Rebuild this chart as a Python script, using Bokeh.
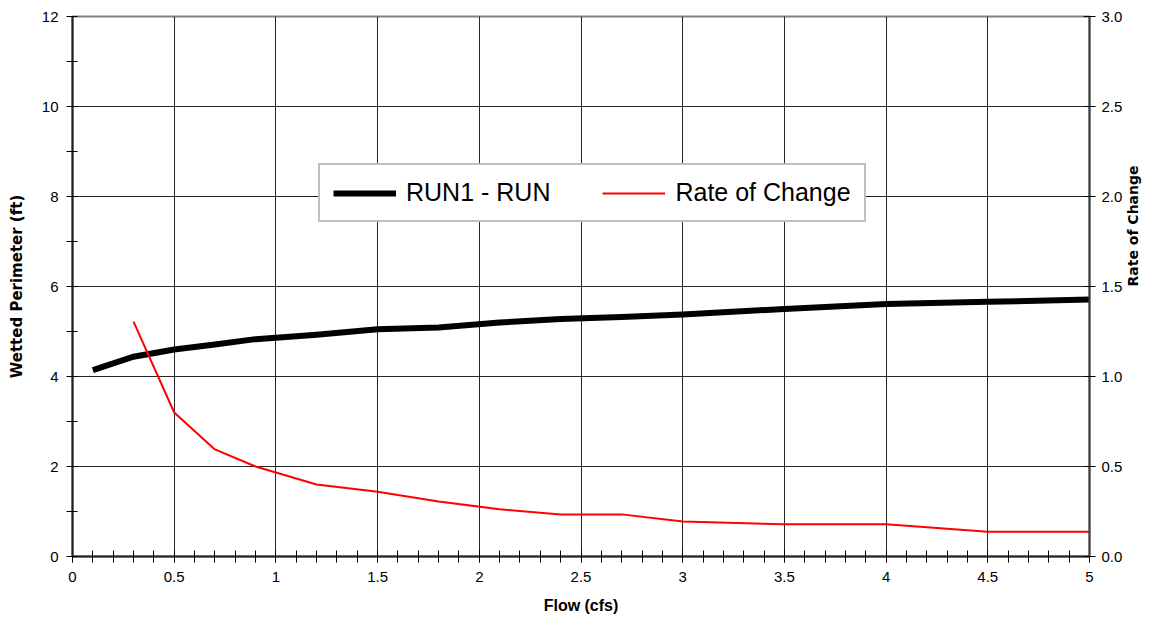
import math
from bokeh.plotting import figure
from bokeh.models import (Range1d, LinearAxis, FixedTicker, NumeralTickFormatter,
                          Legend, LegendItem)
from bokeh.embed import file_html
from bokeh.resources import INLINE

# ---- data ----
flow = [0.1, 0.3, 0.5, 0.7, 0.9, 1.2, 1.5, 1.8, 2.1, 2.4, 2.7, 3.0, 3.5, 4.0, 4.5, 5.0]
wetted_perimeter = [4.14, 4.44, 4.60, 4.71, 4.83, 4.93, 5.05, 5.09, 5.20, 5.28, 5.32, 5.38,
                    5.50, 5.61, 5.66, 5.71]
rate_flow = [0.3, 0.5, 0.7, 0.9, 1.2, 1.5, 1.8, 2.1, 2.4, 2.7, 3.0, 3.5, 4.0, 4.5, 5.0]
rate_of_change = [1.305, 0.80, 0.595, 0.50, 0.40, 0.36, 0.305, 0.262, 0.234, 0.234, 0.194,
                  0.179, 0.179, 0.138, 0.138]

x_major = [0, 0.5, 1, 1.5, 2, 2.5, 3, 3.5, 4, 4.5, 5]
x_minor = [round(i * 0.1, 1) for i in range(51)]
y_major = [0, 2, 4, 6, 8, 10, 12]
y_minor = [1, 3, 5, 7, 9, 11]
y2_major = [0.0, 0.5, 1.0, 1.5, 2.0, 2.5, 3.0]

FONT = "Liberation Sans"
HEAVY = "DejaVu Sans"

p = figure(width=1152, height=619, output_backend="svg", toolbar_location=None,
           x_range=Range1d(0, 5), y_range=Range1d(0, 12),
           min_border_left=72, min_border_right=63, min_border_top=16, min_border_bottom=63)
p.extra_y_ranges = {"right": Range1d(0, 3)}
p.background_fill_color = "white"
p.border_fill_color = "white"
p.outline_line_color = "#808080"
p.outline_line_width = 2

# grids
p.xgrid.ticker = FixedTicker(ticks=x_major)
p.ygrid.ticker = FixedTicker(ticks=y_major)
for g in (p.xgrid[0], p.ygrid[0]):
    g.grid_line_color = "#000000"
    g.grid_line_width = 1
    g.grid_line_alpha = 0.85

# x axis
xa = p.xaxis[0]
xa.ticker = FixedTicker(ticks=x_major, minor_ticks=x_minor)
xa.formatter = NumeralTickFormatter(format="0.[0]")
xa.axis_label = "Flow (cfs)"
xa.axis_label_text_font = FONT
xa.axis_label_text_font_style = "bold"
xa.axis_label_text_font_size = "16px"
xa.axis_label_text_color = "black"
xa.axis_label_standoff = 12
xa.major_label_text_font = FONT
xa.major_label_text_font_size = "15px"
xa.major_label_text_color = "black"
xa.major_label_standoff = 9
xa.axis_line_color = "#202020"
xa.axis_line_width = 2
xa.major_tick_in = 6
xa.major_tick_out = 6
xa.minor_tick_in = 6
xa.minor_tick_out = 6
xa.major_tick_line_color = "black"
xa.minor_tick_line_color = "black"

# left y axis
ya = p.yaxis[0]
ya.ticker = FixedTicker(ticks=y_major, minor_ticks=y_minor)
ya.axis_label = "Wetted Perimeter (ft)"
ya.axis_label_text_font = HEAVY
ya.axis_label_text_font_style = "bold"
ya.axis_label_text_font_size = "15px"
ya.axis_label_text_color = "black"
ya.axis_label_standoff = 13
ya.major_label_text_font = FONT
ya.major_label_text_font_size = "15px"
ya.major_label_text_color = "black"
ya.major_label_standoff = 8
ya.axis_line_color = "#202020"
ya.axis_line_width = 2
ya.major_tick_in = 5
ya.major_tick_out = 6
ya.minor_tick_in = 5
ya.minor_tick_out = 6
ya.major_tick_line_color = "black"
ya.minor_tick_line_color = "black"

# right y axis
ra = LinearAxis(y_range_name="right", ticker=FixedTicker(ticks=y2_major, minor_ticks=[]),
                formatter=NumeralTickFormatter(format="0.0"))
ra.axis_label = "Rate of Change"
ra.axis_label_text_font = HEAVY
ra.axis_label_text_font_style = "bold"
ra.axis_label_text_font_size = "14px"
ra.axis_label_text_color = "black"
ra.axis_label_standoff = 8
try:
    ra.axis_label_orientation = math.pi / 2
except Exception:
    pass
ra.major_label_text_font = FONT
ra.major_label_text_font_size = "15px"
ra.major_label_text_color = "black"
ra.major_label_standoff = 6
ra.axis_line_color = "#404040"
ra.axis_line_width = 2
ra.major_tick_in = 6
ra.major_tick_out = 6
ra.minor_tick_line_color = None
ra.major_tick_line_color = "black"
p.add_layout(ra, "right")

# series
r1 = p.line(flow, wetted_perimeter, line_color="black", line_width=6, line_join="miter")
r2 = p.line(rate_flow, rate_of_change, line_color="#ff0000", line_width=2, y_range_name="right")

legend = Legend(items=[LegendItem(label="RUN1 - RUN", renderers=[r1]),
                       LegendItem(label="Rate of Change", renderers=[r2])],
                location=(246, 334), orientation="horizontal",
                glyph_width=63, glyph_height=20, label_standoff=10, spacing=52,
                padding=13, margin=0,
                label_text_font=FONT, label_text_font_size="25px", label_text_color="black",
                border_line_color="#808080", border_line_width=2,
                background_fill_color="white", background_fill_alpha=1.0)
p.add_layout(legend, "center")

open("out.html", "w").write(file_html(p, INLINE))
